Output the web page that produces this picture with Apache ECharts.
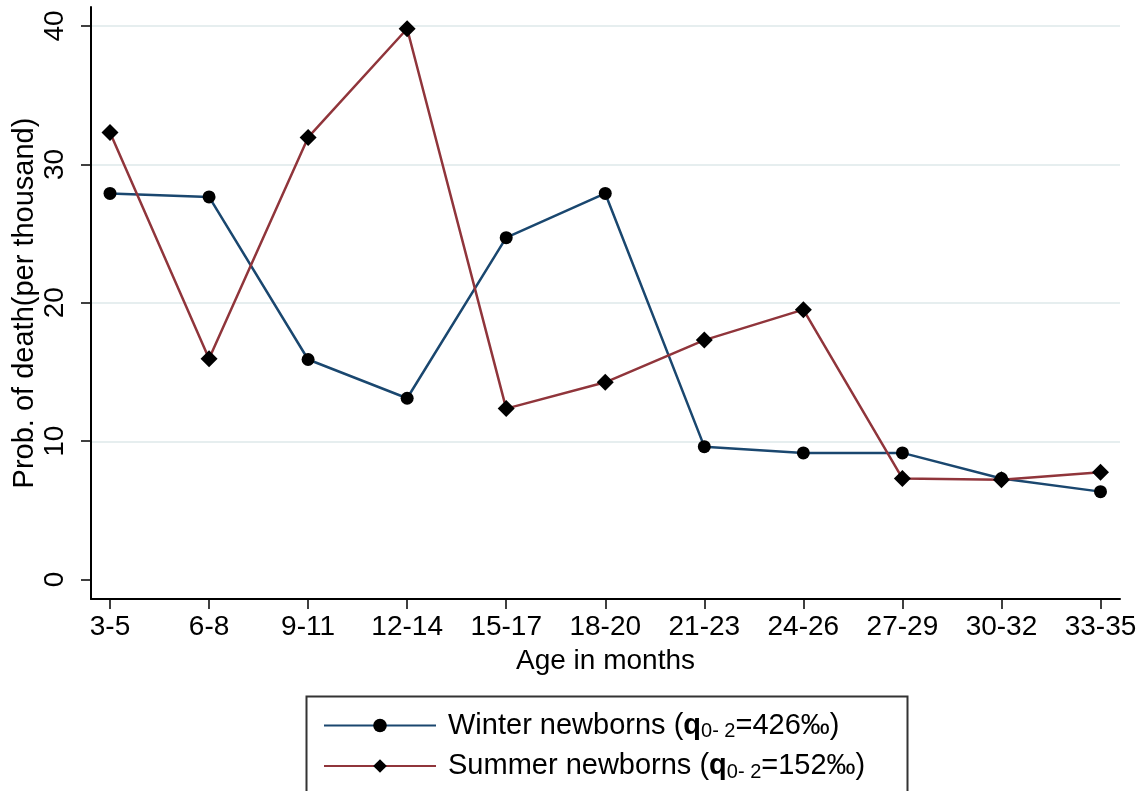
<!DOCTYPE html>
<html>
<head>
<meta charset="utf-8">
<script src="https://cdn.jsdelivr.net/npm/echarts@6/dist/echarts.min.js"></script>
<style>
html,body{margin:0;padding:0;background:#fff;}
#chart{width:1144px;height:791px;}
</style>
</head>
<body>
<div id="chart"></div>
<script>
// ---- data ----
var categories = ['3-5','6-8','9-11','12-14','15-17','18-20','21-23','24-26','27-29','30-32','33-35'];
var seriesNames = ['Winter newborns', 'Summer newborns'];
var qValues = ['426', '152'];
var winter = [27.9, 27.65, 15.9, 13.1, 24.7, 27.9, 9.6, 9.15, 9.15, 7.3, 6.35];
var summer = [32.3, 15.95, 31.95, 39.8, 12.35, 14.25, 17.3, 19.5, 7.3, 7.2, 7.75];
var yTicks = [0, 10, 20, 30, 40];

var FONT = 'Liberation Sans, Arial, Helvetica, sans-serif';
var chart = echarts.init(document.getElementById('chart'), null, {renderer: 'canvas'});

var option = {
  animation: false,
  backgroundColor: '#ffffff',
  textStyle: {fontFamily: FONT},
  grid: [
    {left: 110, right: 43.5, top: 26, bottom: 211.5},
    {left: 91, right: 24, top: 7, bottom: 192},
    {left: 91, right: 24, top: 26, bottom: 349.3}
  ],
  xAxis: [
    {
      gridIndex: 0, type: 'category', data: categories, boundaryGap: false,
      offset: 19.5,
      axisLine: {show: true, onZero: false, lineStyle: {color: '#000', width: 2}},
      axisTick: {show: true, interval: 0, length: 10, lineStyle: {color: '#000', width: 1.5}},
      axisLabel: {interval: 0, fontSize: 28, color: '#000', margin: 14, fontFamily: FONT},
      splitLine: {show: false}
    },
    {
      gridIndex: 1, type: 'value', min: 0, max: 1,
      axisLine: {show: true, onZero: false, lineStyle: {color: '#000', width: 2}},
      axisTick: {show: false}, axisLabel: {show: false}, splitLine: {show: false},
      name: 'Age in months', nameLocation: 'middle', nameGap: 48,
      nameTextStyle: {fontSize: 28, color: '#000', fontFamily: FONT}
    },
    {gridIndex: 2, type: 'value', show: false, min: 0, max: 1}
  ],
  yAxis: [
    {
      gridIndex: 0, type: 'value', min: yTicks[0], max: yTicks[yTicks.length - 1], interval: 10,
      offset: 19,
      axisLine: {show: true, onZero: false, lineStyle: {color: '#000', width: 2}},
      axisTick: {show: true, length: 10, lineStyle: {color: '#000', width: 1.5}},
      axisLabel: {rotate: 90, fontSize: 28, color: '#000', margin: 22, fontFamily: FONT},
      splitLine: {show: false}
    },
    {
      gridIndex: 1, type: 'value', min: 0, max: 1,
      axisLine: {show: true, onZero: false, lineStyle: {color: '#000', width: 2}},
      axisTick: {show: false}, axisLabel: {show: false}, splitLine: {show: false},
      name: 'Prob. of death(per thousand)', nameLocation: 'middle', nameGap: 52, nameRotate: 90,
      nameTextStyle: {fontSize: 29, color: '#000', fontFamily: FONT}
    },
    {
      gridIndex: 2, type: 'value', min: 10, max: 40, interval: 10,
      axisLine: {show: false}, axisTick: {show: false}, axisLabel: {show: false},
      splitLine: {show: true, lineStyle: {color: '#e6eeef', width: 2}}
    }
  ],
  legend: {
    orient: 'vertical',
    left: 318, top: 706,
    itemWidth: 112, itemHeight: 17, itemGap: 10,
    data: seriesNames,
    formatter: function (name) {
      var i = seriesNames.indexOf(name);
      return '{t|' + name + ' (}{b|q}{s|0- 2}{t|=' + qValues[i] + '\u2030)}';
    },
    textStyle: {
      fontSize: 29, color: '#000', fontFamily: FONT, padding: [0, 0, 0, 7],
      rich: {
        t: {fontSize: 29, lineHeight: 32, color: '#000', fontFamily: FONT},
        b: {fontSize: 29, lineHeight: 32, fontWeight: 'bold', color: '#000', fontFamily: FONT},
        s: {fontSize: 20, lineHeight: 32, verticalAlign: 'bottom', color: '#000', fontFamily: FONT}
      }
    }
  },
  graphic: [{
    type: 'rect', left: 304, top: 694, silent: true,
    shape: {width: 601, height: 100},
    style: {fill: 'none', stroke: '#333', lineWidth: 2}
  }],
  series: [
    {
      name: seriesNames[0], type: 'line', xAxisIndex: 0, yAxisIndex: 0,
      data: winter, symbol: 'circle', symbolSize: 13,
      itemStyle: {color: '#000'},
      lineStyle: {color: '#1a476f', width: 2.5}
    },
    {
      name: seriesNames[1], type: 'line', xAxisIndex: 0, yAxisIndex: 0,
      data: summer, symbol: 'diamond', symbolSize: 17,
      itemStyle: {color: '#000'},
      lineStyle: {color: '#90353b', width: 2.5}
    }
  ]
};
chart.setOption(option);
</script>
</body>
</html>
